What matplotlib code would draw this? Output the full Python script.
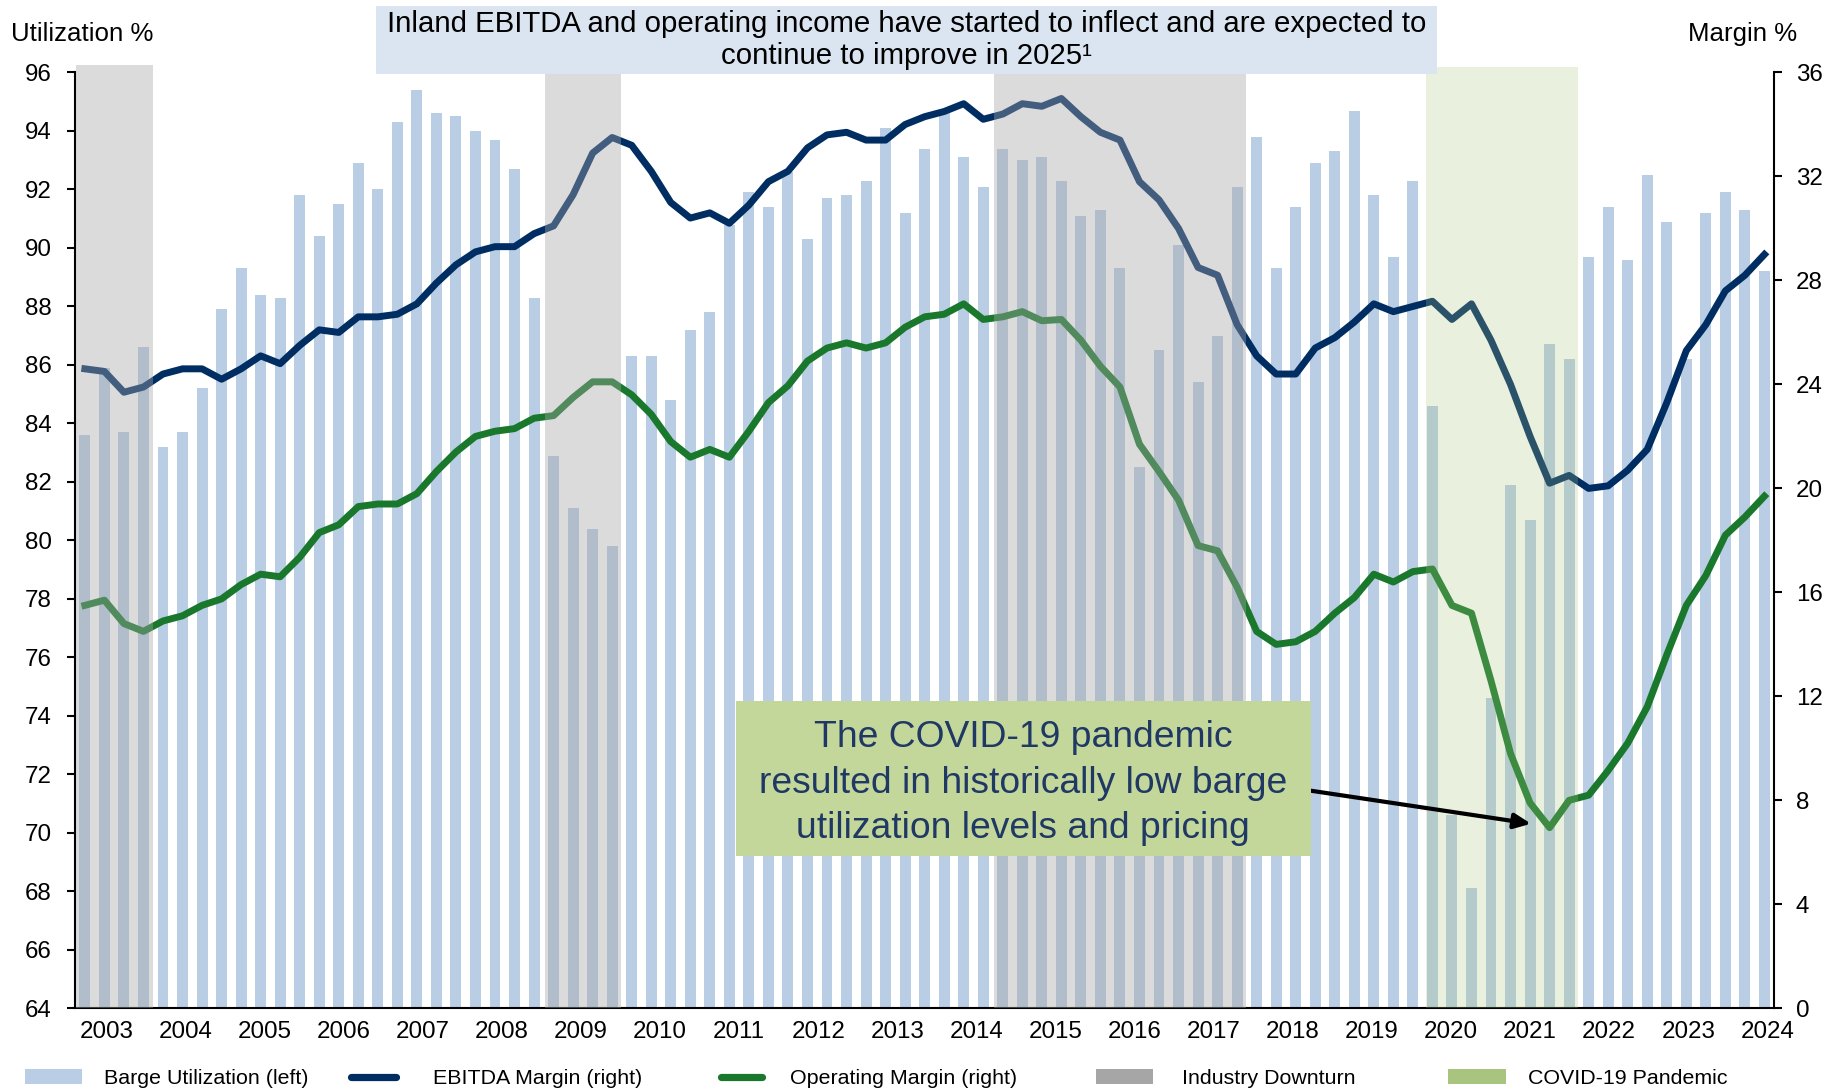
import numpy as np
import matplotlib

matplotlib.use("Agg")
import matplotlib.pyplot as plt  # noqa: E402
from matplotlib.patches import Rectangle, Patch  # noqa: E402
from matplotlib.lines import Line2D  # noqa: E402

plt.rcParams["font.family"] = ["Liberation Sans", "DejaVu Sans"]

# quarterly data, 2003 Q1 .. 2024 Q3
years = [str(y) for y in range(2003, 2025)]

utilization = [
    83.6, 85.9, 83.7, 86.6,  # 2003
    83.2, 83.7, 85.2, 87.9,  # 2004
    89.3, 88.4, 88.3, 91.8,  # 2005
    90.4, 91.5, 92.9, 92.0,  # 2006
    94.3, 95.4, 94.6, 94.5,  # 2007
    94.0, 93.7, 92.7, 88.3,  # 2008
    82.9, 81.1, 80.4, 79.8,  # 2009
    86.3, 86.3, 84.8, 87.2,  # 2010
    87.8, 90.8, 91.9, 91.4,  # 2011
    92.6, 90.3, 91.7, 91.8,  # 2012
    92.3, 94.1, 91.2, 93.4,  # 2013
    94.6, 93.1, 92.1, 93.4,  # 2014
    93.0, 93.1, 92.3, 91.1,  # 2015
    91.3, 89.3, 82.5, 86.5,  # 2016
    90.1, 85.4, 87.0, 92.1,  # 2017
    93.8, 89.3, 91.4, 92.9,  # 2018
    93.3, 94.7, 91.8, 89.7,  # 2019
    92.3, 84.6, 70.6, 68.1,  # 2020
    74.6, 81.9, 80.7, 86.7,  # 2021
    86.2, 89.7, 91.4, 89.6,  # 2022
    92.5, 90.9, 86.2, 91.2,  # 2023
    91.9, 91.3, 89.2,        # 2024
]

ebitda_margin = [
    24.6, 24.5, 23.7, 23.9,
    24.4, 24.6, 24.6, 24.2,
    24.6, 25.1, 24.8, 25.5,
    26.1, 26.0, 26.6, 26.6,
    26.7, 27.1, 27.9, 28.6,
    29.1, 29.3, 29.3, 29.8,
    30.1, 31.3, 32.9, 33.5,
    33.2, 32.2, 31.0, 30.4,
    30.6, 30.2, 30.9, 31.8,
    32.2, 33.1, 33.6, 33.7,
    33.4, 33.4, 34.0, 34.3,
    34.5, 34.8, 34.2, 34.4,
    34.8, 34.7, 35.0, 34.3,
    33.7, 33.4, 31.8, 31.1,
    30.0, 28.5, 28.2, 26.3,
    25.1, 24.4, 24.4, 25.4,
    25.8, 26.4, 27.1, 26.8,
    27.0, 27.2, 26.5, 27.1,
    25.7, 24.0, 22.0, 20.2,
    20.5, 20.0, 20.1, 20.7,
    21.5, 23.3, 25.3, 26.3,
    27.6, 28.2, 29.0,
]

operating_margin = [
    15.5, 15.7, 14.8, 14.5,
    14.9, 15.1, 15.5, 15.75,
    16.3, 16.7, 16.6, 17.35,
    18.3, 18.6, 19.3, 19.4,
    19.4, 19.8, 20.65, 21.4,
    22.0, 22.2, 22.3, 22.7,
    22.8, 23.5, 24.1, 24.1,
    23.6, 22.85, 21.8, 21.2,
    21.5, 21.2, 22.2, 23.3,
    23.95, 24.9, 25.4, 25.6,
    25.4, 25.6, 26.2, 26.6,
    26.7, 27.1, 26.5, 26.6,
    26.8, 26.45, 26.5, 25.7,
    24.7, 23.9, 21.7, 20.65,
    19.55, 17.8, 17.6, 16.2,
    14.5, 14.0, 14.1, 14.5,
    15.2, 15.8, 16.7, 16.4,
    16.8, 16.9, 15.5, 15.2,
    12.6, 9.8, 7.9, 6.95,
    8.0, 8.2, 9.15, 10.2,
    11.6, 13.6, 15.5, 16.65,
    18.2, 18.9, 19.7,
]

# first and last quarter (index) of each shaded period
downturn_periods = [(0, 3), (24, 27), (47, 59)]
covid_period = (69, 76)

BAR = "#b9cde5"
NAVY = "#002d62"
GREEN = "#1a782c"
GREY = "#a6a6a6"
COVID = "#a9c47f"

fig = plt.figure(figsize=(18.34, 10.92), dpi=100)
ax = fig.add_axes([0.04095, 0.07665, 0.92644, 0.85696])
x = np.arange(len(utilization))
ax.bar(x, utilization, width=0.56, color=BAR, zorder=1)
ax.set_xlim(-0.5, len(utilization) - 0.5)
ax.set_ylim(64, 96)
ax.set_yticks(range(64, 97, 2))
ax.set_xticks(np.arange(len(years)) * 4.05 + 1.1)
ax.set_xticklabels(years)

ax2 = ax.twinx()
ax2.set_ylim(0, 36)
ax2.set_yticks(range(0, 37, 4))
ax2.plot(x, ebitda_margin, color=NAVY, lw=5, zorder=2)
ax2.plot(x, operating_margin, color=GREEN, lw=5, zorder=2)

for start, end in downturn_periods:
    ax2.axvspan(start - 0.45, end + 0.47, ymin=0, ymax=1.008, color=GREY,
                alpha=0.4, lw=0, clip_on=False, zorder=3)
ax2.axvspan(covid_period[0] - 0.35, covid_period[1] + 0.45, ymin=0, ymax=1.006,
            color=COVID, alpha=0.25, lw=0, clip_on=False, zorder=3)

for a in (ax, ax2):
    for side in ("top", "left", "right", "bottom"):
        a.spines[side].set_visible(False)
ax.spines["left"].set_visible(True)
ax.spines["bottom"].set_visible(True)
ax2.spines["right"].set_visible(True)
for sp in (ax.spines["left"], ax.spines["bottom"], ax2.spines["right"]):
    sp.set_linewidth(1.5)
    sp.set_color("black")

ax.tick_params(axis="y", direction="out", length=5.7, width=1.5, pad=11, labelsize=17.4)
ax.tick_params(axis="x", length=0, pad=9, labelsize=17.4)
ax2.tick_params(axis="y", direction="out", length=5.7, width=1.5, pad=10, labelsize=17.4)

fig.text(0.006, 0.9687, "Utilization %", fontsize=18.6, ha="left", va="center")
fig.text(0.9801, 0.9692, "Margin %", fontsize=18.6, ha="right", va="center")

# headline box
fig.add_artist(Rectangle((0.205, 0.932), 0.5783, 0.0625, transform=fig.transFigure,
                         facecolor="#dbe5f1", edgecolor="none", zorder=5))
fig.text(0.4942, 0.9632,
         "Inland EBITDA and operating income have started to inflect and are expected to\n"
         "continue to improve in 2025\u00b9",
         ha="center", va="center", fontsize=21.2, linespacing=1.17, zorder=6)

# COVID callout
fig.add_artist(Rectangle((0.4013, 0.2161), 0.3135, 0.142, transform=fig.transFigure,
                         facecolor="#c4d79b", edgecolor="none", zorder=5))
fig.text(0.558, 0.2828,
         "The COVID-19 pandemic\nresulted in historically low barge\nutilization levels and pricing",
         ha="center", va="center", fontsize=26.8, color="#1f3864", linespacing=1.4, zorder=6)
ax2.annotate("", xy=(74.05, 7.1), xycoords="data",
             xytext=(0.7148, 0.2759), textcoords="figure fraction",
             arrowprops=dict(arrowstyle="-|>,head_length=1.0,head_width=0.45",
                             color="black", lw=3, shrinkA=0, shrinkB=0),
             zorder=7)

# legend, one entry per block to keep the original spacing
legend_items = [
    (Patch(facecolor=BAR), "Barge Utilization (left)", 24.5, 2.68, 1.02),
    (Line2D([], [], color=NAVY, lw=5.2, solid_capstyle="round"), "EBITDA Margin (right)", 351, 2.1, 1.75),
    (Line2D([], [], color=GREEN, lw=5.2, solid_capstyle="round"), "Operating Margin (right)", 721, 1.92, 1.3),
    (Patch(facecolor=GREY), "Industry Downturn", 1096, 2.66, 1.35),
    (Patch(facecolor=COVID), "COVID-19 Pandemic", 1448, 2.7, 1.04),
]
for handle, label, xpix, hlen, hpad in legend_items:
    fig.legend([handle], [label], loc="center left", bbox_to_anchor=(xpix / 1834, 0.0122),
               frameon=False, fontsize=15.4, borderpad=0, borderaxespad=0,
               handlelength=hlen, handletextpad=hpad)

fig.savefig("out.png", dpi=100)
